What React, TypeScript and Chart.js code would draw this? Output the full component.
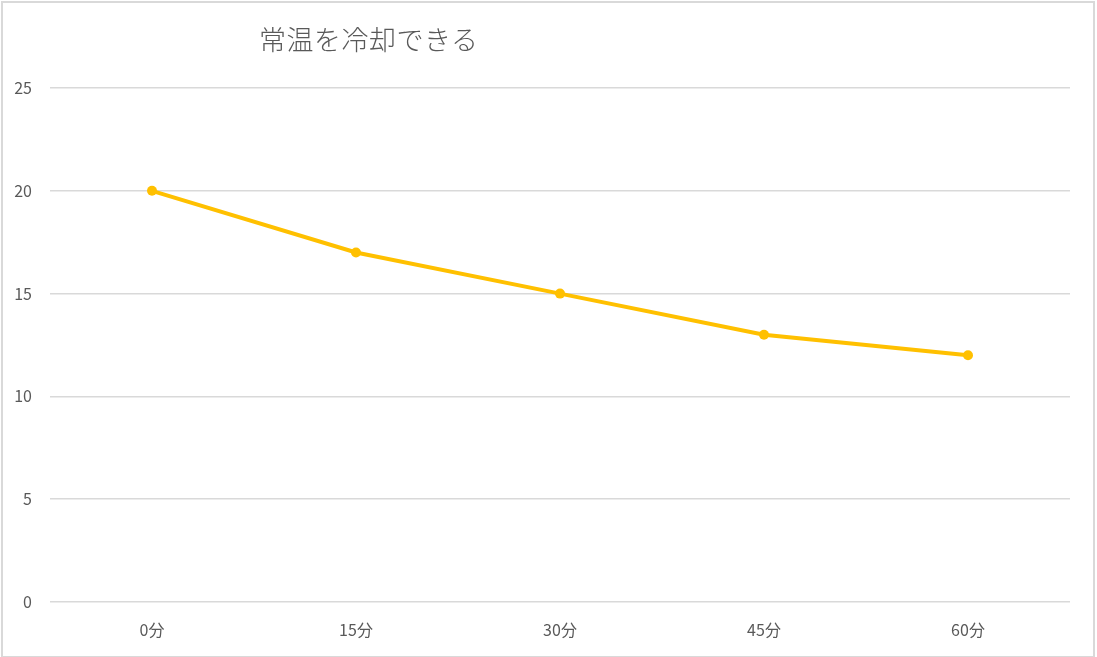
import { useEffect, useRef } from 'react';
import { Chart, ChartConfiguration, registerables } from 'chart.js';

Chart.register(...registerables);

const title = '常温を冷却できる';
const categories = ['0分', '15分', '30分', '45分', '60分'];
const temperatures = [20, 17, 15, 13, 12];
const yTicks = [0, 5, 10, 15, 20, 25];

const FONT = '"Noto Sans CJK JP", "Noto Sans", sans-serif';

export default function App() {
  const canvasRef = useRef<HTMLCanvasElement>(null);
  const chartRef = useRef<Chart | null>(null);

  useEffect(() => {
    if (!canvasRef.current) return;
    document.body.style.margin = '0';

    if (chartRef.current) {
      chartRef.current.destroy();
    }

    const ctx = canvasRef.current.getContext('2d');
    if (!ctx) return;

    const config: ChartConfiguration = {
      type: 'line',
      data: {
        labels: categories,
        datasets: [
          {
            label: title,
            data: temperatures,
            borderColor: '#FFC000',
            backgroundColor: '#FFC000',
            borderWidth: 4,
            pointRadius: 5,
            pointBorderWidth: 0,
            pointBackgroundColor: '#FFC000',
            tension: 0,
          },
        ],
      },
      options: {
        responsive: true,
        maintainAspectRatio: false,
        animation: false,
        layout: {
          padding: { top: 88, right: 27, left: 0, bottom: 0 },
        },
        plugins: {
          legend: { display: false },
          title: { display: false },
          tooltip: { enabled: false },
        },
        scales: {
          x: {
            offset: true,
            grid: { display: false, drawTicks: false },
            border: { display: false },
            ticks: {
              color: '#595959',
              padding: 18,
              font: { family: FONT, size: 16 },
            },
            afterFit: (scale) => {
              scale.height = 55;
            },
          },
          y: {
            min: 0,
            max: 25,
            afterBuildTicks: (scale) => {
              scale.ticks = yTicks.map((v) => ({ value: v }));
            },
            grid: { color: '#d9d9d9', lineWidth: 1.5, drawTicks: false },
            border: { display: false },
            ticks: {
              color: '#595959',
              padding: 18,
              font: { family: FONT, size: 16 },
            },
            afterFit: (scale) => {
              scale.width = 50;
            },
          },
        },
      },
    };

    chartRef.current = new Chart(ctx, config);

    return () => {
      if (chartRef.current) {
        chartRef.current.destroy();
        chartRef.current = null;
      }
    };
  }, []);

  return (
    <div style={{ position: 'fixed', left: 0, top: 0, width: '1097px', height: '657px', background: '#fff' }}>
      <div style={{ position: 'absolute', left: 0, top: 0, width: '1097px', height: '657px' }}>
        <canvas ref={canvasRef}></canvas>
      </div>
      <div
        style={{
          position: 'absolute',
          left: '259px',
          top: '19px',
          fontFamily: FONT,
          fontSize: '27px',
          fontWeight: 300,
          color: '#595959',
          whiteSpace: 'nowrap',
          letterSpacing: '0.5px',
        }}
      >
        {title}
      </div>
      <div
        style={{
          position: 'absolute',
          left: '1px',
          top: '1px',
          width: '1090px',
          height: '653px',
          border: '2px solid #d9d9d9',
          pointerEvents: 'none',
        }}
      ></div>
    </div>
  );
}
